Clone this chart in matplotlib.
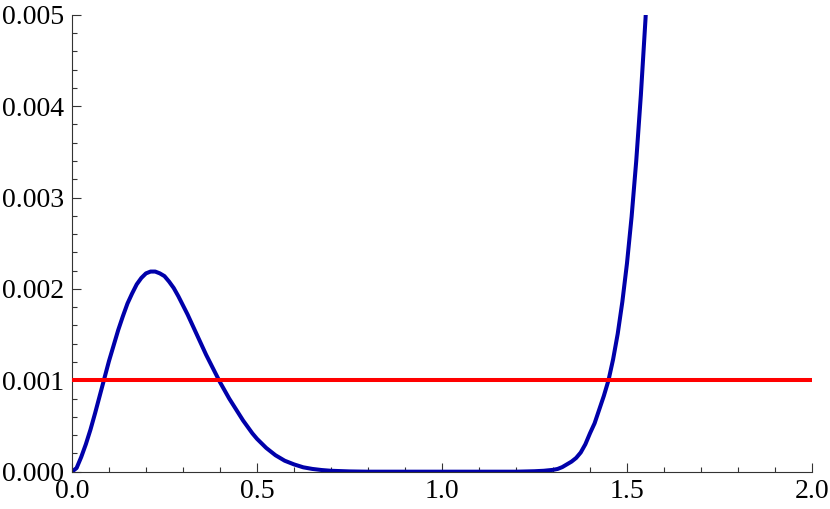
import matplotlib.pyplot as plt
import numpy as np

# values
x_vals = [0.0, 0.0125, 0.025, 0.0375, 0.05, 0.0625, 0.075, 0.0875, 0.1,
          0.1125, 0.125, 0.1375, 0.15, 0.1625, 0.175, 0.1875, 0.2, 0.2125,
          0.225, 0.2375, 0.25, 0.2625, 0.275, 0.2875, 0.3, 0.3125, 0.325,
          0.3375, 0.35, 0.3625, 0.375, 0.3875, 0.4, 0.4125, 0.425, 0.4375,
          0.45, 0.4625, 0.475, 0.4875, 0.5, 0.525, 0.55, 0.575, 0.6, 0.625,
          0.65, 0.675, 0.7, 0.75, 0.8, 1.0, 1.2, 1.25, 1.275, 1.3, 1.3125,
          1.325, 1.3375, 1.35, 1.3625, 1.375, 1.3875, 1.4, 1.4125, 1.425,
          1.4375, 1.45, 1.4625, 1.475, 1.4875, 1.5, 1.5125, 1.525, 1.5375,
          1.55, 1.5625]
y_vals = [0.0, 0.00004, 0.00016, 0.00030, 0.00046, 0.00064, 0.00083, 0.00102,
          0.00121, 0.00138, 0.00155, 0.00170, 0.00184, 0.00195, 0.00205,
          0.00212, 0.00217, 0.00219, 0.00219, 0.00217, 0.00214, 0.00208,
          0.00201, 0.00192, 0.00182, 0.00172, 0.00161, 0.00150, 0.00139,
          0.00128, 0.00118, 0.00108, 0.00098, 0.00089, 0.00080, 0.00072,
          0.00064, 0.00056, 0.00049, 0.00042, 0.00036, 0.00026, 0.00018,
          0.00012, 0.00008, 0.000048, 0.00003, 0.000018, 0.00001, 0.000003,
          0.0, 0.0, 0.0, 0.000005, 0.00001, 0.00002, 0.00003, 0.00005,
          0.00008, 0.00011, 0.00015, 0.00021, 0.00030, 0.00042, 0.00053,
          0.00068, 0.00083, 0.00100, 0.00123, 0.00151, 0.00186, 0.00228,
          0.00279, 0.00340, 0.00412, 0.00495, 0.0059]
level = 0.001

x_ticks = [0.0, 0.5, 1.0, 1.5, 2.0]
x_labels = ['0.0', '0.5', '1.0', '1.5', '2.0']
y_ticks = [0.0, 0.001, 0.002, 0.003, 0.004, 0.005]
y_labels = ['0.000', '0.001', '0.002', '0.003', '0.004', '0.005']

plt.rcParams['font.family'] = ['Liberation Serif', 'DejaVu Serif']

fig = plt.figure(figsize=(8.3, 5.09), dpi=100)
ax = fig.add_axes([0.0867, 0.0733, 0.8916, 0.8977])

ax.plot(x_vals, y_vals, color='#0000AA', lw=2.9, solid_capstyle='butt',
        solid_joinstyle='round', zorder=2)
ax.axhline(level, color='#FF0000', lw=2.9, zorder=3)

ax.set_xlim(0, 2)
ax.set_ylim(0, 0.005)
ax.spines['top'].set_visible(False)
ax.spines['right'].set_visible(False)
for s in ['left', 'bottom']:
    ax.spines[s].set_linewidth(0.8)
    ax.spines[s].set_color('#333333')

ax.set_xticks(x_ticks)
ax.set_xticklabels(x_labels)
ax.set_yticks(y_ticks)
ax.set_yticklabels(y_labels)
ax.set_xticks(np.arange(0, 2.01, 0.1), minor=True)
ax.set_yticks(np.arange(0, 0.00501, 0.0002), minor=True)

ax.tick_params(which='major', direction='in', length=6.5, width=0.8,
               color='#333333', labelsize=20)
ax.tick_params(which='minor', direction='in', length=3.5, width=0.8,
               color='#333333')
ax.tick_params(axis='y', which='major', pad=6)
ax.tick_params(axis='x', which='major', pad=5)

plt.savefig('out.png', dpi=100)
